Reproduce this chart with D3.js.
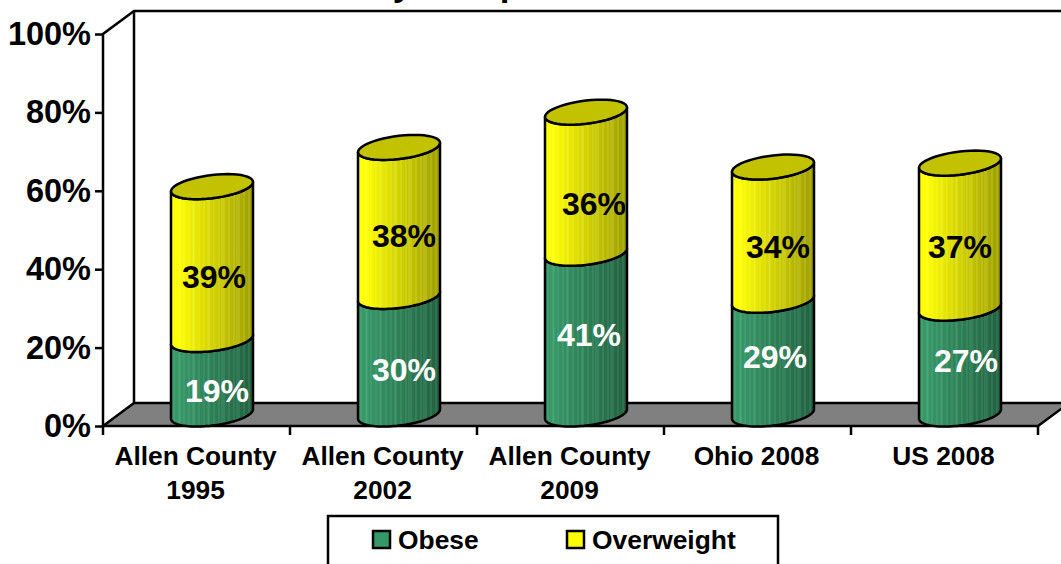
<!DOCTYPE html>
<html>
<head>
<meta charset="utf-8">
<script src="https://cdn.jsdelivr.net/npm/d3@7"></script>
<style>
  html, body { margin: 0; background: #fff; overflow: hidden; }
  text { font-family: "Liberation Sans", Arial, sans-serif; font-weight: bold; }
</style>
</head>
<body>
<div id="chart"></div>
<script>
const categories = [["Allen County", "1995"], ["Allen County", "2002"], ["Allen County", "2009"], ["Ohio 2008"], ["US 2008"]];
const obese = [19, 30, 41, 29, 27];
const overweight = [39, 38, 36, 34, 37];
const yTicks = [0, 20, 40, 60, 80, 100];
const seriesNames = ["Obese", "Overweight"];

// the labels were dragged by hand in the original, so each has its own nudge
const obeseNudge = [[5, 14], [5, 14], [3, 1], [2, -1], [6, -1]];
const overweightNudge = [[2, 13], [5, 14], [8, 21], [5, 13], [0, 11]];

const width = 1061, height = 564;
const depthX = 31, depthY = 23;
const lineW = 2.5;

const svg = d3.select("#chart").append("svg").attr("width", width).attr("height", height);

const y = d3.scaleLinear().domain([0, 100]).range([426, 34]);
const x = d3.scaleBand().domain(d3.range(categories.length)).range([103, 1038]);

const defs = svg.append("defs");
function gradient(id, from, to) {
  const g = defs.append("linearGradient").attr("id", id);
  g.append("stop").attr("offset", 0).attr("stop-color", from);
  g.append("stop").attr("offset", 0.08).attr("stop-color", from);
  g.append("stop").attr("offset", 1).attr("stop-color", to);
}
gradient("greenBody", "#389868", "#236041");
gradient("yellowBody", "#ffff00", "#9c9c00");

// title is cut off by the top of the picture, same as the original
svg.append("text").attr("x", 455).attr("y", -4).attr("text-anchor", "middle")
  .attr("font-size", 35).text("Obesity Comparison");

// walls and floor
const stroke = (sel) => sel.attr("fill", "none").attr("stroke", "#000").attr("stroke-width", lineW);
svg.append("path")
  .attr("d", d3.line()([[103, y(0)], [1038, y(0)], [1038 + depthX, y(0) - depthY], [103 + depthX, y(0) - depthY]]) + "Z")
  .call(stroke).attr("fill", "#808080");
svg.append("path")
  .attr("d", d3.line()([[103, y(0)], [103, y(100)], [103 + depthX, y(100) - depthY], [width + 5, y(100) - depthY]]))
  .call(stroke);
svg.append("path")
  .attr("d", d3.line()([[103 + depthX, y(100) - depthY], [103 + depthX, y(0) - depthY]]))
  .call(stroke);

// y axis
const yAxis = svg.append("g").attr("transform", "translate(103,0)")
  .call(d3.axisLeft(y).tickValues(yTicks).tickFormat((d) => d + "%").tickSize(8).tickPadding(4));
yAxis.select(".domain").remove();
yAxis.selectAll("line").attr("stroke", "#000").attr("stroke-width", lineW);
yAxis.selectAll("text").attr("font-size", 32.5).attr("fill", "#000");

// x axis
const xEdges = d3.range(categories.length + 1).map((i) => 103 + i * x.step());
svg.append("g").selectAll("line").data(xEdges).enter().append("line")
  .attr("x1", (d) => d).attr("x2", (d) => d)
  .attr("y1", y(0)).attr("y2", y(0) + 9)
  .attr("stroke", "#000").attr("stroke-width", lineW);

const catLabels = svg.append("g").selectAll("text").data(categories).enter().append("text")
  .attr("text-anchor", "middle").attr("font-size", 26.3).attr("fill", "#000")
  .attr("transform", (d, i) => `translate(${x(i) + x.bandwidth() / 2 - 1},465)`);
catLabels.selectAll("tspan").data((d) => d).enter().append("tspan")
  .attr("x", 0).attr("y", (d, i) => i * 34).text((d) => d);

// cylinders
const rx = 41, ry = 11.6, skew = -0.115;
const centerX = (i) => x(i) + x.bandwidth() / 2 + 15.5;
const baseY = y(0) - 12;
const hPx = (v) => y(0) - y(v);

function ellipsePts(cx, cy, from, to) {
  return d3.range(0, 49).map((k) => {
    const t = from + (to - from) * (k / 48);
    return [cx + rx * Math.cos(t), cy + ry * Math.sin(t) + skew * rx * Math.cos(t)];
  });
}
// front face of one section, the front curve is used at both ends
function frontPath(cx, yBottom, yTop) {
  const top = ellipsePts(cx, yTop, Math.PI, 0);
  const bottom = ellipsePts(cx, yBottom, 0, Math.PI);
  return d3.line()(top.concat(bottom)) + "Z";
}

const stripes = d3.range(3, 82, 5).concat([9, 22, 37, 51, 66]);

categories.forEach((c, i) => {
  const cx = centerX(i);
  const yMid = baseY - hPx(obese[i]);
  const yTop = baseY - hPx(obese[i] + overweight[i]);
  const g = svg.append("g");

  const sections = [
    { lo: baseY, hi: yMid, fill: "url(#greenBody)", stripe: "#7fcfa5" },
    { lo: yMid, hi: yTop, fill: "url(#yellowBody)", stripe: "#ffffa0" },
  ];
  sections.forEach((s) => {
    const clipId = `clip${i}_${s.stripe.slice(1)}`;
    const d = frontPath(cx, s.lo, s.hi);
    defs.append("clipPath").attr("id", clipId).append("path").attr("d", d);
    g.append("path").attr("d", d).attr("fill", s.fill);
    g.append("g").attr("clip-path", `url(#${clipId})`).selectAll("line").data(stripes).enter().append("line")
      .attr("x1", (v) => cx - rx + v).attr("x2", (v) => cx - rx + v)
      .attr("y1", s.hi - 30).attr("y2", s.lo + 30)
      .attr("stroke", s.stripe).attr("stroke-opacity", 0.28).attr("stroke-width", 1);
    g.append("path").attr("d", d).call(stroke).attr("stroke-linejoin", "round");
  });
  g.append("path").attr("d", d3.line()(ellipsePts(cx, yTop, 0, 2 * Math.PI)) + "Z")
    .call(stroke).attr("fill", "#c2c200");

  g.append("text").attr("x", cx + obeseNudge[i][0]).attr("y", baseY - hPx(obese[i]) / 2 + obeseNudge[i][1])
    .attr("dy", "0.36em").attr("text-anchor", "middle").attr("font-size", 32).attr("fill", "#fff").text(obese[i] + "%");
  g.append("text").attr("x", cx + overweightNudge[i][0]).attr("y", (yMid + yTop) / 2 + overweightNudge[i][1])
    .attr("dy", "0.36em").attr("text-anchor", "middle").attr("font-size", 32).attr("fill", "#000").text(overweight[i] + "%");
});

// legend
svg.append("rect").attr("x", 328).attr("y", 516).attr("width", 450).attr("height", 60)
  .call(stroke).attr("fill", "#fff");
const legendX = d3.scaleOrdinal().domain(seriesNames).range([373, 567]);
const legendFill = d3.scaleOrdinal().domain(seriesNames).range(["#339966", "#ffff00"]);
seriesNames.forEach((n) => {
  svg.append("rect").attr("x", legendX(n)).attr("y", 531).attr("width", 17).attr("height", 17)
    .call(stroke).attr("fill", legendFill(n));
  svg.append("text").attr("x", legendX(n) + 25).attr("y", 549).attr("font-size", 26.4).attr("fill", "#000").text(n);
});
</script>
</body>
</html>
